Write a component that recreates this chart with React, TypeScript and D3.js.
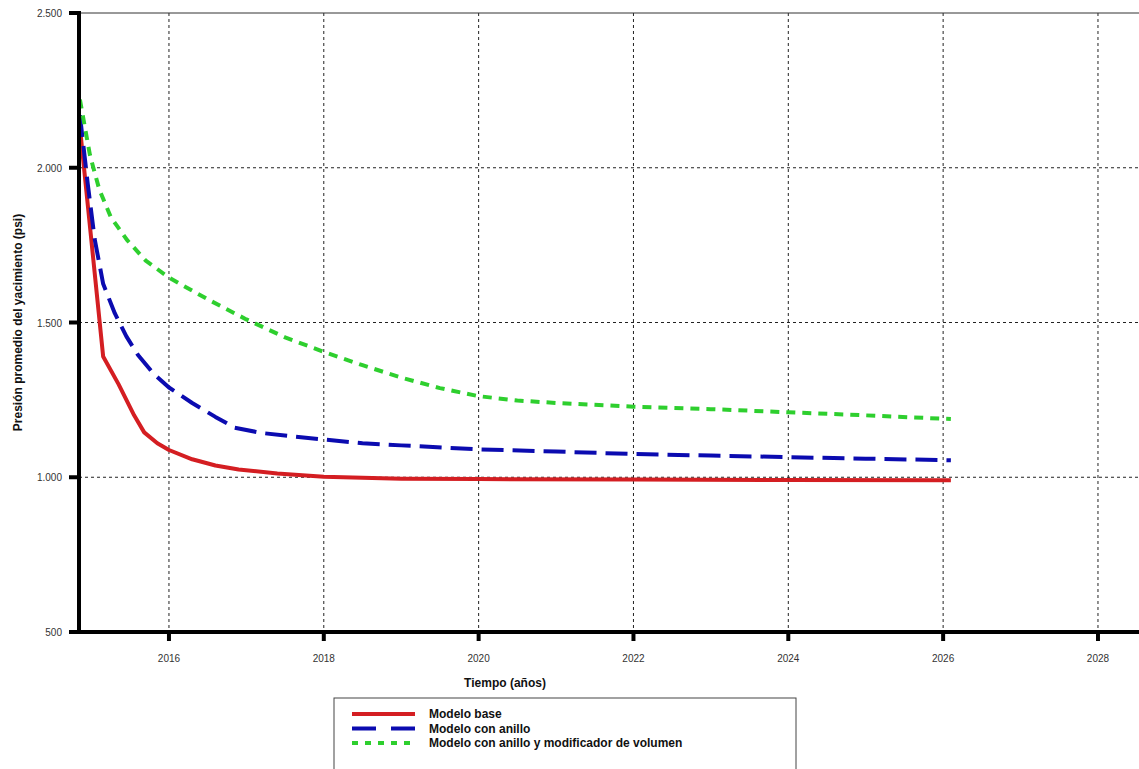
import React, {useEffect, useRef} from "react";
import * as d3 from "d3";

// años (decimal) y presión (psi)
const baseYears = [2014.85, 2015.15, 2015.35, 2015.55, 2015.68, 2015.85, 2016.0, 2016.3, 2016.6, 2016.9, 2017.4, 2018.0, 2018.5, 2019.0, 2020.0, 2022.0, 2024.0, 2026.1];
const baseValues = [2130, 1390, 1300, 1200, 1145, 1110, 1088, 1058, 1038, 1025, 1012, 1002, 998, 995, 994, 993, 991, 990];

const anilloYears = [2014.85, 2014.95, 2015.04, 2015.15, 2015.3, 2015.45, 2015.6, 2015.8, 2016.0, 2016.3, 2016.6, 2016.85, 2017.2, 2017.6, 2018.0, 2018.5, 2019.0, 2020.0, 2021.0, 2022.0, 2023.0, 2024.0, 2025.0, 2026.1];
const anilloValues = [2170, 1950, 1770, 1625, 1530, 1455, 1395, 1335, 1290, 1240, 1195, 1160, 1143, 1132, 1122, 1110, 1103, 1090, 1083, 1075, 1070, 1065, 1060, 1055];

const volumenYears = [2014.85, 2014.98, 2015.1, 2015.25, 2015.46, 2015.7, 2016.0, 2016.5, 2017.0, 2017.5, 2018.0, 2018.5, 2019.0, 2019.5, 2020.0, 2020.5, 2021.0, 2022.0, 2023.0, 2024.0, 2025.0, 2026.1];
const volumenValues = [2220, 2040, 1930, 1840, 1766, 1700, 1645, 1575, 1510, 1452, 1405, 1362, 1322, 1288, 1262, 1248, 1240, 1228, 1220, 1210, 1200, 1188];

const xTicks = [2016, 2018, 2020, 2022, 2024, 2026, 2028];
const yTicks = [500, 1000, 1500, 2000, 2500];

const seriesLabels = ["Modelo base", "Modelo con anillo", "Modelo con anillo y modificador de volumen"];

const series = [
    {label: seriesLabels[0], years: baseYears, values: baseValues, color: "#d41e22", dash: null, legendDash: null},
    {label: seriesLabels[1], years: anilloYears, values: anilloValues, color: "#0b0bb0", dash: "22,9", legendDash: "24,15"},
    {label: seriesLabels[2], years: volumenYears, values: volumenValues, color: "#2ecf2e", dash: "9,7", legendDash: "6,7"},
];

const App = () => {
    const ref = useRef<SVGGElement>(null);
    const width = 1139;
    const height = 769;
    const left = 79;
    const right = 1139;
    const top = 13;
    const bottom = 632;

    useEffect(() => {
        const g = d3.select(ref.current);
        g.selectAll("*").remove();

        const x = d3.scaleLinear().domain([2014.838, 2028.53]).range([left, right]);
        const y = d3.scaleLinear().domain([500, 2500]).range([bottom, top]);
        const locale = d3.formatLocale({decimal: ",", thousands: ".", grouping: [3], currency: ["", ""]});
        const fmt = locale.format(",");

        // Grid
        g.selectAll(".vgrid")
            .data(xTicks)
            .enter()
            .append("line")
            .attr("x1", d => x(d))
            .attr("x2", d => x(d))
            .attr("y1", top)
            .attr("y2", bottom)
            .attr("stroke", "#222")
            .attr("stroke-width", 1)
            .attr("stroke-dasharray", "3,3");

        g.selectAll(".hgrid")
            .data(yTicks.filter(d => d > 500 && d < 2500))
            .enter()
            .append("line")
            .attr("x1", left)
            .attr("x2", right)
            .attr("y1", d => y(d))
            .attr("y2", d => y(d))
            .attr("stroke", "#222")
            .attr("stroke-width", 1)
            .attr("stroke-dasharray", "3,3");

        // top border
        g.append("line")
            .attr("x1", left)
            .attr("x2", right)
            .attr("y1", y(2500))
            .attr("y2", y(2500))
            .attr("stroke", "#333")
            .attr("stroke-width", 1);

        // Lines
        const line = d3.line<[number, number]>()
            .x(d => x(d[0]))
            .y(d => y(d[1]));

        series.forEach(s => {
            const pts: [number, number][] = s.years.map((yr, i) => [yr, s.values[i]]);
            g.append("path")
                .attr("d", line(pts))
                .attr("fill", "none")
                .attr("stroke", s.color)
                .attr("stroke-width", 4)
                .attr("stroke-linejoin", "round")
                .attr("stroke-dasharray", s.dash);
        });

        // Axes
        g.append("line")
            .attr("x1", left)
            .attr("x2", left)
            .attr("y1", top - 2)
            .attr("y2", bottom + 2)
            .attr("stroke", "#000")
            .attr("stroke-width", 4);
        g.append("line")
            .attr("x1", left - 2)
            .attr("x2", right)
            .attr("y1", bottom)
            .attr("y2", bottom)
            .attr("stroke", "#000")
            .attr("stroke-width", 4);

        g.selectAll(".ytick")
            .data(yTicks)
            .enter()
            .append("line")
            .attr("x1", left - 10)
            .attr("x2", left)
            .attr("y1", d => y(d))
            .attr("y2", d => y(d))
            .attr("stroke", "#000")
            .attr("stroke-width", 4);

        g.selectAll(".ylab")
            .data(yTicks)
            .enter()
            .append("text")
            .attr("x", left - 17)
            .attr("y", d => y(d) + 4)
            .attr("text-anchor", "end")
            .style("font-family", "Liberation Sans, Arial, sans-serif")
            .style("font-size", "10px")
            .attr("fill", "#333")
            .text(d => fmt(d));

        g.selectAll(".xtick")
            .data(xTicks)
            .enter()
            .append("line")
            .attr("x1", d => x(d))
            .attr("x2", d => x(d))
            .attr("y1", bottom)
            .attr("y2", bottom + 9)
            .attr("stroke", "#000")
            .attr("stroke-width", 4);

        g.selectAll(".xlab")
            .data(xTicks)
            .enter()
            .append("text")
            .attr("x", d => x(d))
            .attr("y", bottom + 30)
            .attr("text-anchor", "middle")
            .style("font-family", "Liberation Sans, Arial, sans-serif")
            .style("font-size", "10px")
            .attr("fill", "#333")
            .text(d => String(d));

        // Titles
        g.append("text")
            .attr("x", 505)
            .attr("y", 687)
            .attr("text-anchor", "middle")
            .style("font-family", "Liberation Sans, Arial, sans-serif")
            .style("font-size", "12px")
            .style("font-weight", "bold")
            .attr("fill", "#111")
            .text("Tiempo (años)");

        g.append("text")
            .attr("transform", `translate(22, ${(top + bottom) / 2}) rotate(-90)`)
            .attr("text-anchor", "middle")
            .style("font-family", "Liberation Sans, Arial, sans-serif")
            .style("font-size", "12px")
            .style("font-weight", "bold")
            .attr("fill", "#111")
            .text("Presión promedio del yacimiento (psi)");

        // Legend
        const legend = g.append("g").attr("transform", "translate(334, 698)");
        legend.append("rect")
            .attr("x", 0)
            .attr("y", 0)
            .attr("width", 462)
            .attr("height", 80)
            .attr("fill", "#fff")
            .attr("stroke", "#444")
            .attr("stroke-width", 1);

        const items = legend.selectAll(".item")
            .data(series)
            .enter()
            .append("g")
            .attr("transform", (d, i) => `translate(0, ${16 + i * 14.5})`);

        items.append("line")
            .attr("x1", 18)
            .attr("x2", 81)
            .attr("y1", 0)
            .attr("y2", 0)
            .attr("stroke", d => d.color)
            .attr("stroke-width", 4)
            .attr("stroke-dasharray", d => d.legendDash);

        items.append("text")
            .attr("x", 95)
            .attr("y", 4)
            .style("font-family", "Liberation Sans, Arial, sans-serif")
            .style("font-size", "12px")
            .style("font-weight", "bold")
            .attr("fill", "#111")
            .text(d => d.label);
    }, []);

    return (
        <svg width={width} height={height} style={{position: "absolute", left: 0, top: 0, background: "#fff"}}>
            <g ref={ref}/>
        </svg>
    );
};

export default App;
